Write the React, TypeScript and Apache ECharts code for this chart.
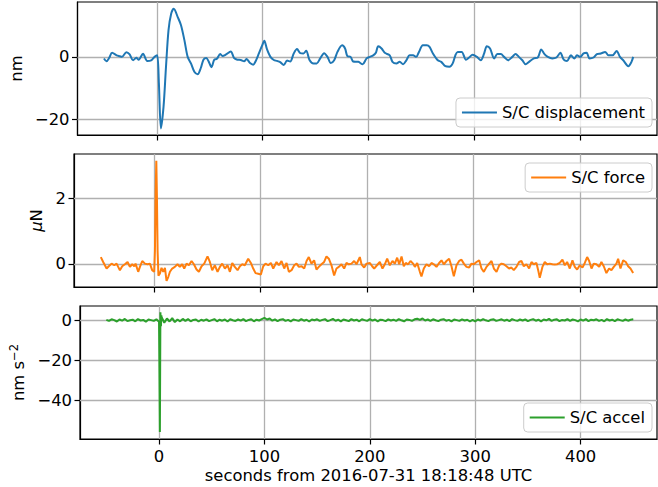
import React, { useEffect, useRef } from "react";
import * as echarts from "echarts";

const xTicks = [0, 100, 200, 300, 400];
const dispYTicks = [-20, 0];
const forceYTicks = [0, 2];
const accelYTicks = [-40, -20, 0];

const xLabel = "seconds from 2016-07-31 18:18:48 UTC";
const dispName = "S/C displacement";
const forceName = "S/C force";
const accelName = "S/C accel";

const dispTime = [
  -50, -47.6, -45, -42.3, -38, -35, -33, -28.8, -25.7, -22.5, -19.4, -17.2, -13.1, -9.1, -5.4, -2.2,
  0.3, 1.9, 3.8, 6.3, 8.6, 11.0, 13.5, 16.0, 19.7, 22.8, 26.0, 29.1, 32.2, 35.4, 38.5, 41.6, 44.0,
  46.7, 48.8, 51.6, 54.2, 56.7, 59.8, 62.0, 65.0, 69.8, 73.0, 76.0, 79.2, 82.4, 84.8, 88.0, 91.0,
  93.3, 96.4, 99.5, 101.5, 104, 107.3, 110.5, 113.5, 116.5, 119.9, 123.0, 126, 129.3, 132.4, 135.5,
  138.5, 141.1, 144.2, 148.0, 151.0, 154.3, 158.0, 161.2, 164.3, 167.5, 170.6, 175.0, 177.8, 180.0,
  183, 185.5, 190.3, 194.4, 198.1, 201.2, 204.4, 206.9, 209.1, 212.3, 215.3, 220.0, 222.6, 226.3,
  229.4, 232.6, 235.7, 238.8, 242, 245.0, 247.6, 251.3, 255.0, 257.6, 260.8, 265.4, 268.6, 272.6,
  276.4, 279.5, 282.0, 284.2, 288.0, 292.0, 295.0, 298.3, 302.4, 306.0, 309.2, 311.7, 314.8, 318.6,
  321.7, 325, 328.0, 331.8, 335.8, 338.9, 342.0, 345.3, 348.4, 351.6, 356.2, 360.0, 363.1, 366.2,
  369.4, 373.5, 377.5, 381.2, 384.4, 387.5, 391.2, 394.4, 396.9, 400.0, 403.1, 406, 408.8, 412.5,
  415.7, 419.4, 423.5, 426.6, 430.5, 434.4, 437.5, 440.6, 445.4, 448.4, 450.0,
];
const dispValue = [
  -0.5, -1.4, -0.3, 1.3, 0.5, 0.2, 0.0, 1.5, 0.8, -1.1, -0.3, -0.9, 1.0, -1.3, -1.1, 0.0,
  0.5, -8.4, -23.0, -16.0, -3.3, 8.6, 13.9, 15.5, 12.8, 10.2, 5.4, 0.0, -2.1, -4.8, -5.6, -3.5, -0.9,
  -0.4, -1.4, -3.3, -0.9, -0.6, 0.9, 0.3, 0.7, 1.7, -0.4, -0.9, -1.0, -1.4, -0.7, -2.0, -2.5,
  -1.4, 1.1, 3.7, 5.2, 2.5, 0.0, -1.0, -1.3, -1.7, -2.6, -1.2, -1.5, 1.1, 2.5, 1.2,
  1.1, 2.0, -1.0, -2.1, -2.1, -0.5, 1.2, 0.0, -2.0, -1.1, 1.6, 3.7, 2.7, 0.2,
  0.0, -1.5, -1.6, -2.4, -0.5, 0.0, 0.5, 1.3, 3.4, 2.7, 1.3, 0.5, -1.6, -2.1,
  -1.6, -2.4, -1.1, 0.5, 0.5, 0.0, 1.6, 3.7, 3.7, 3.2, 1.1, -1.1, -1.6, -3.0,
  -3.2, -2.1, 0.5, 1.6, 1.6, -0.9, -0.2, 0.7, 0.0, -1.1, 1.1, 3.4, 2.7, -0.5,
  0.9, 0.9, 0.0, -1.1, 0.0, 0.9, 0.0, -1.1, -2.4, -1.6, -0.5, -0.2, 2.4, 0.9,
  0.0, -0.5, -0.2, 1.3, -0.9, -1.3, 0.5, -0.5, 0.5, 0.0, 1.1, 1.3, -0.5, -0.2,
  0.9, 1.1, 1.6, 0.5, 0.5, 1.9, 0.0, -1.1, -3.0, -1.6, 0.0,
];

const forceTime = [
  -49.8, -47.6, -44.4, -42.3, -39.7, -37.2, -35.0, -33.5, -31.9, -29.7, -27.2, -24.7, -22.5, -20.3,
  -18.4, -17.2, -14.7, -13.1, -10.9, -8.4, -5.9, -3.7, -1.6, 0.3, 1.0, 1.7, 2.3, 2.9, 3.5, 4.3,
  5.6, 7.2, 8.8, 10.4, 11.9, 13.5, 15.1, 17.2, 19.7, 22.2, 24.4, 26.6, 28.5, 30.7, 32.9, 35.4,
  37.6, 40.1, 42.3, 44.8, 47.3, 50.4, 52.6, 54.8, 57.3, 59.8, 62.0, 64.2, 66.7, 69.2, 71.4, 73.6,
  76.0, 78.6, 80.8, 83.0, 85.4, 88.6, 91.1, 93.3, 95.5, 98.0, 100.5, 102.7, 104.9, 107.4, 109.9,
  112.1, 115.2, 117.4, 119.9, 122.4, 124.6, 126.8, 129.3, 131.8, 134.0, 136.2, 138.7, 141.2, 143.4,
  145.5, 148.0, 150.5, 152.7, 154.9, 157.4, 159.9, 162.1, 164.3, 166.8, 169.3, 171.5, 173.7, 176.2,
  178.7, 180.9, 183.1, 185.6, 188.1, 190.3, 193.4, 195.0, 197.5, 199.7, 202.9, 205.0, 206.9, 209.5,
  212.2, 214.7, 216.9, 219.1, 221.6, 224.1, 226.3, 228.5, 230.4, 232.6, 234.7, 236.6, 238.8, 241.0,
  243.5, 245.1, 247.3, 249.8, 251.3, 253.5, 256.0, 258.5, 260.7, 262.9, 265.4, 267.9, 270.1, 272.3,
  274.8, 277.3, 279.5, 281.7, 284.2, 286.7, 288.9, 291.1, 293.6, 296.1, 298.3, 300.5, 303.0, 305.5,
  307.7, 309.9, 312.4, 314.9, 317.1, 319.3, 321.8, 324.3, 326.5, 328.6, 331.1, 333.6, 335.8, 338.0,
  340.5, 343.0, 345.2, 347.4, 349.9, 352.4, 354.6, 356.8, 359.3, 360.9, 362.4, 364.9, 367.1, 369.3,
  371.8, 374.3, 376.5, 378.7, 381.2, 383.7, 385.9, 388.1, 390.6, 393.1, 395.3, 397.5, 400.0, 402.5,
  404.7, 406.9, 408.8, 411.0, 413.1, 415.6, 418.2, 420.3, 422.5, 425.0, 427.5, 429.7, 431.9, 434.4,
  436.0, 438.2, 440.7, 443.2, 445.4, 447.6, 450.1,
];
const forceValue = [
  0.21, 0.06, -0.14, -0.07, 0.01, -0.04, 0.01, -0.09, -0.19, -0.07, -0.01, 0.06, -0.09, -0.01,
  -0.07, 0.01, -0.24, -0.09, 0.09, 0.01, -0.01, 0.01, -0.19, -0.24, 0.4, 2.2, 3.15, 2.0, 0.4, -0.36,
  -0.30, -0.12, -0.24, -0.12, -0.52, -0.40, -0.24, -0.14, -0.09, -0.01, -0.09, -0.01, -0.14, 0.01, -0.04, 0.09,
  -0.01, -0.17, -0.24, -0.07, 0.01, 0.23, 0.06, -0.19, -0.04, -0.24, -0.09, 0.01, -0.14, -0.04, -0.24, 0.03,
  -0.09, -0.19, -0.07, -0.01, -0.04, 0.16, 0.03, -0.14, -0.28, -0.30, -0.32, -0.07, 0.01, -0.04, 0.03,
  -0.14, 0.06, -0.04, 0.09, -0.14, 0.03, -0.24, -0.19, -0.04, 0.01, -0.09, -0.07, -0.14, 0.09,
  0.21, 0.01, 0.11, -0.17, -0.09, -0.01, 0.06, 0.23, 0.16, -0.04, -0.35, -0.14, -0.09, -0.01,
  -0.14, 0.03, -0.01, 0.01, 0.09, -0.01, 0.21, -0.01, -0.11, 0.01, 0.03, -0.07, -0.14, -0.04,
  0.06, -0.14, -0.01, 0.16, -0.04, 0.09, 0.01, 0.19, -0.01, 0.23, -0.07, 0.03, -0.01, 0.09,
  0.01, -0.09, 0.03, -0.24, -0.38, -0.14, -0.01, -0.07, 0.03, -0.01, -0.09, 0.03, 0.11, -0.01,
  0.09, 0.16, -0.07, -0.38, -0.04, 0.09, 0.13, 0.01, -0.09, -0.11, 0.01, -0.01, 0.06, 0.11,
  -0.14, -0.24, -0.09, 0.01, 0.09, -0.14, -0.24, -0.04, 0.01, -0.01, -0.07, -0.14, -0.11, -0.19,
  -0.09, 0.06, 0.09, -0.07, -0.01, -0.14, 0.06, -0.01, 0.03, -0.19, -0.42, -0.09, 0.06, -0.01,
  0.01, -0.01, -0.02, -0.01, 0.03, 0.13, -0.04, 0.06, -0.14, 0.11, -0.09, -0.17, -0.04, -0.11,
  0.03, 0.21, 0.09, -0.14, 0.01, -0.01, -0.09, 0.06, -0.07, -0.28, -0.14, -0.19, -0.09, 0.01,
  0.16, -0.14, 0.11, 0.06, -0.07, -0.14, -0.28,
];

// accel samples every 2.5 s starting at -50 s
const accelStart = -50;
const accelStep = 2.5;
const accelNoise = [
  0.2, -0.3, 0.5, 0.1, -0.6, 0.4, -0.2, 0.7, -0.4, 0.0,
  0.3, -0.5, 0.6, -0.1, 0.2, -0.7, 0.4, 0.1, -0.3, 0.5,
  -0.8, 1.5, -1.2, 0.9, -0.6, 1.1, -0.9, 0.4, -0.5, 0.7,
  -0.3, 0.6, -0.5, 0.2, 0.4, -0.6, 0.3, -0.2, 0.5, -0.4,
  0.1, 0.6, -0.5, 0.3, -0.2, 0.4, -0.6, 0.5, 0.0, -0.3,
  0.4, -0.2, 0.6, -0.4, 0.2, 0.5, -0.5, 0.3, -0.1, 0.6,
  1.2, 0.4, 0.9, -0.2, 0.5, -0.4, 0.3, 0.6, -0.3, 0.2,
  -0.5, 0.4, 0.1, -0.3, 0.6, -0.2, 0.3, -0.6, 0.4, 0.0,
  0.5, -0.3, 0.2, 0.6, -0.4, 0.1, 0.7, -0.2, 0.3, -0.5,
  0.4, 0.0, -0.4, 0.6, -0.1, 0.3, -0.5, 0.5, 0.1, -0.3,
  0.6, -0.2, 0.4, -0.5, 0.3, 0.1, -0.4, 0.5, -0.1, 0.3,
  -0.3, 0.6, 0.0, -0.5, 0.4, 0.2, -0.3, 0.5, 0.8, 0.2,
  0.9, -0.1, 0.4, -0.3, 0.5, 0.0, -0.4, 0.3, 0.6, -0.2,
  0.2, -0.5, 0.4, 0.1, -0.3, 0.5, -0.1, 0.3, -0.6, 0.2,
  -0.5, 0.4, -0.2, 0.6, 0.0, -0.4, 0.3, 0.5, -0.3, 0.1,
  0.5, -0.2, 0.3, -0.4, 0.6, 0.1, -0.3, 0.4, -0.1, 0.5,
  -0.4, 0.2, 0.6, -0.2, 0.3, -0.5, 0.4, 0.0, 0.7, -0.3,
  0.3, 0.5, -0.4, 0.2, -0.1, 0.6, -0.3, 0.4, 0.1, -0.5,
  0.4, -0.2, 0.6, -0.4, 0.3, 0.0, 0.5, -0.3, 0.2, -0.5,
  0.6, -0.1, 0.3, -0.4, 0.5, 0.1, -0.3, 0.4, -0.2, 0.3,
  0.5,
];
const accelSpikeTime = [0.3, 0.8, 1.3, 1.8, 2.2];
const accelSpikeValue = [-20, -56, 4.0, -3.0, 2.5];

const FONT = "DejaVu Sans";
const FS = 16.4;
const BLUE = "#1f77b4";
const ORANGE = "#ff7f0e";
const GREEN = "#2ca02c";
const GRIDC = "#b0b0b0";

const zip = (t: number[], v: number[]) => t.map((x, i) => [x, v[i]]);

export default function App() {
  const ref = useRef<HTMLDivElement>(null);
  useEffect(() => {
    document.body.style.margin = "0";
    if (!ref.current) return;
    const chart = echarts.init(ref.current, null, { renderer: "svg" });

    const dispData = zip(dispTime, dispValue);
    const forceData = zip(forceTime, forceValue);
    const accelData = accelNoise
      .map((v, i) => [accelStart + i * accelStep, v])
      .concat(zip(accelSpikeTime, accelSpikeValue))
      .sort((a, b) => a[0] - b[0]);

    const minus = (v: number) => String(v).replace("-", "\u2212");

    const gridTop = [2, 154, 306];
    const grids = gridTop.map((t) => ({
      left: 74,
      top: t,
      width: 583,
      height: 133,
      show: true,
      borderColor: "#000",
      borderWidth: 1.2,
      backgroundColor: "transparent",
    }));

    const xAxes = [0, 1, 2].map((i) => ({
      type: "value",
      gridIndex: i,
      min: -75,
      max: 472.5,
      axisLine: { show: true, onZero: false, lineStyle: { color: "#000", width: 1.2 } },
      axisTick: {
        show: true,
        customValues: xTicks,
        length: 5.5,
        inside: false,
        lineStyle: { color: "#000", width: 1.2 },
      },
      axisLabel: {
        show: i === 2,
        customValues: xTicks,
        formatter: minus,
        color: "#000",
        fontFamily: FONT,
        fontSize: FS,
        margin: 9,
      },
      splitLine: { show: false },
      name: i === 2 ? xLabel : "",
      nameLocation: "middle",
      nameGap: 28,
      nameTextStyle: { color: "#000", fontFamily: FONT, fontSize: FS },
    }));

    const yCfg = [
      { min: -25.13, max: 17.65, ticks: dispYTicks, name: "nm", gap: 46 },
      { min: -0.704, max: 3.357, ticks: forceYTicks, name: "{i|\u03bc}N", gap: 22 },
      { min: -59.5, max: 7.17, ticks: accelYTicks, name: "nm s{s|\u22122}", gap: 46 },
    ];
    const yAxes = yCfg.map((c, i) => ({
      type: "value",
      gridIndex: i,
      min: c.min,
      max: c.max,
      axisLine: { show: true, onZero: false, lineStyle: { color: "#000", width: 1.2 } },
      axisTick: {
        show: true,
        customValues: c.ticks,
        length: 5.5,
        inside: false,
        lineStyle: { color: "#000", width: 1.2 },
      },
      axisLabel: {
        show: true,
        customValues: c.ticks,
        formatter: minus,
        color: "#000",
        fontFamily: FONT,
        fontSize: FS,
        margin: 8,
      },
      splitLine: { show: false },
      name: c.name,
      nameLocation: "middle",
      nameRotate: 90,
      nameGap: c.gap,
      nameTextStyle: {
        color: "#000",
        fontFamily: FONT,
        fontSize: FS,
        rich: {
          i: { fontStyle: "italic", fontFamily: FONT, fontSize: FS, color: "#000" },
          s: {
            fontFamily: FONT,
            fontSize: 11.5,
            color: "#000",
            verticalAlign: "bottom",
            padding: [0, 0, 9, 0],
          },
        },
      },
    }));

    const gridMark = (ys: number[]) => ({
      silent: true,
      symbol: ["none", "none"],
      z: 1,
      label: { show: false },
      emphasis: { disabled: true },
      lineStyle: { color: GRIDC, width: 1.3, type: "solid" },
      data: [...xTicks.map((v) => ({ xAxis: v })), ...ys.map((v) => ({ yAxis: v }))],
    });

    const mkSeries = (name: string, data: number[][], idx: number, color: string, ys: number[], smooth: any) => ({
      type: "line",
      name,
      xAxisIndex: idx,
      yAxisIndex: idx,
      data,
      symbol: "none",
      showSymbol: false,
      smooth,
      z: 3,
      lineStyle: { color, width: 2.0 },
      itemStyle: { color },
      emphasis: { disabled: true },
      markLine: gridMark(ys),
    });

    const legendBase = {
      orient: "vertical",
      backgroundColor: "rgba(255,255,255,0.8)",
      borderColor: "#cccccc",
      borderWidth: 1,
      borderRadius: 4,
      padding: [5, 7, 5, 5],
      itemWidth: 35,
      itemHeight: 19,
      itemGap: 0,
      itemTextGap: 14,
      selectedMode: false,
      textStyle: { color: "#000", fontFamily: FONT, fontSize: FS, lineHeight: 19 },
      lineStyle: { width: 2.0 },
      itemStyle: { opacity: 0 },
    };

    chart.setOption({
      animation: false,
      grid: grids,
      xAxis: xAxes,
      yAxis: yAxes,
      legend: [
        { ...legendBase, data: [dispName], right: 6, top: 98 },
        { ...legendBase, data: [forceName], right: 6, top: 163 },
        { ...legendBase, data: [accelName], right: 6, top: 403 },
      ],
      series: [
        mkSeries(dispName, dispData, 0, BLUE, dispYTicks, 0.3),
        mkSeries(forceName, forceData, 1, ORANGE, forceYTicks, false),
        mkSeries(accelName, accelData, 2, GREEN, accelYTicks, false),
      ],
    });
    return () => chart.dispose();
  }, []);
  return <div ref={ref} style={{ width: 658, height: 487 }} />;
}
